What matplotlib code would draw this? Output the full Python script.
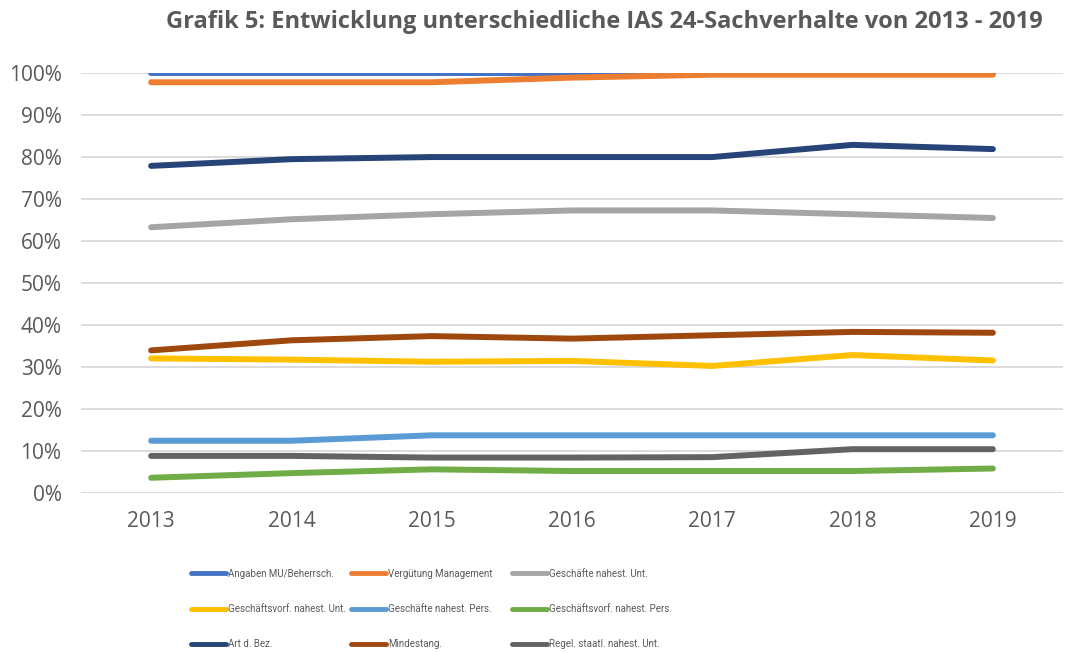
import matplotlib
matplotlib.use("Agg")
import matplotlib.pyplot as plt
from matplotlib.ticker import PercentFormatter

years = ["2013", "2014", "2015", "2016", "2017", "2018", "2019"]
labels = ["Angaben MU/Beherrsch.", "Vergütung Management", "Geschäfte nahest. Unt.",
          "Geschäftsvorf. nahest. Unt.", "Geschäfte nahest. Pers.", "Geschäftsvorf. nahest. Pers.",
          "Art d. Bez.", "Mindestang.", "Regel. staatl. nahest. Unt."]
angaben_mu = [100, 100, 100, 100, 100, 100, 100]
verguetung = [97.8, 97.8, 97.8, 98.9, 99.6, 99.6, 99.6]
geschaefte_unt = [63.3, 65.2, 66.4, 67.3, 67.3, 66.4, 65.5]
geschaeftsvorf_unt = [32.1, 31.8, 31.3, 31.5, 30.3, 32.9, 31.6]
geschaefte_pers = [12.5, 12.5, 13.8, 13.8, 13.8, 13.8, 13.8]
geschaeftsvorf_pers = [3.7, 4.8, 5.7, 5.3, 5.3, 5.3, 5.9]
art_bez = [77.9, 79.5, 80.0, 80.0, 80.0, 82.9, 81.9]
mindestang = [34.0, 36.4, 37.4, 36.8, 37.6, 38.4, 38.2]
regel_staatl = [8.9, 8.9, 8.5, 8.5, 8.6, 10.5, 10.5]

series = [angaben_mu, verguetung, geschaefte_unt, geschaeftsvorf_unt, geschaefte_pers,
          geschaeftsvorf_pers, art_bez, mindestang, regel_staatl]
colors = ["#4472C4", "#ED7D31", "#A5A5A5", "#FFC000", "#5B9BD5", "#70AD47",
          "#264478", "#9E480E", "#636363"]

plt.rcParams['font.family'] = ['Open Sans', 'DejaVu Sans']
fig = plt.figure(figsize=(10.87, 6.53), dpi=100)
ax = fig.add_axes([81/1087, 1 - 493.3/653, (1063-81)/1087, (493.3-73)/653])

x = list(range(len(years)))
handles = []
for s, c, l in zip(series, colors, labels):
    h, = ax.plot(x, s, color=c, lw=4.3, solid_capstyle='round', solid_joinstyle='round', label=l)
    handles.append(h)

ax.set_xlim(-0.5, 6.5)
ax.set_ylim(0, 100)
ax.set_yticks(range(0, 101, 10))
ax.yaxis.set_major_formatter(PercentFormatter(decimals=0))
ax.set_xticks(x)
ax.set_xticklabels(years)
ax.grid(axis='y', color='#D9D9D9', lw=1.3)
ax.set_axisbelow(True)
for sp in ax.spines.values():
    sp.set_visible(False)
ax.tick_params(axis='both', length=0, labelsize=15, colors='#595959')
ax.tick_params(axis='y', pad=14)
ax.tick_params(axis='x', pad=13)

fig.text(604/1087, 1 - 22/653, "Grafik 5: Entwicklung unterschiedliche IAS 24-Sachverhalte von 2013 - 2019",
         ha='center', va='center', fontsize=17, fontweight='bold', color='#595959')

col_x = [191, 351, 512]
for ci in range(3):
    idx = [ci, ci + 3, ci + 6]
    leg = fig.legend([handles[i] for i in idx], [labels[i] for i in idx], ncol=1,
                     loc='center left', bbox_to_anchor=(col_x[ci]/1087, 1 - 609/653), frameon=False,
                     prop={'family': ['Roboto', 'DejaVu Sans'], 'size': 7.0},
                     labelcolor='#595959', handlelength=3.6, handletextpad=0.25,
                     labelspacing=2.6, borderaxespad=0, borderpad=0)
    for lh in leg.get_lines():
        lh.set_linewidth(3.5)

fig.savefig("out.png", dpi=100)
